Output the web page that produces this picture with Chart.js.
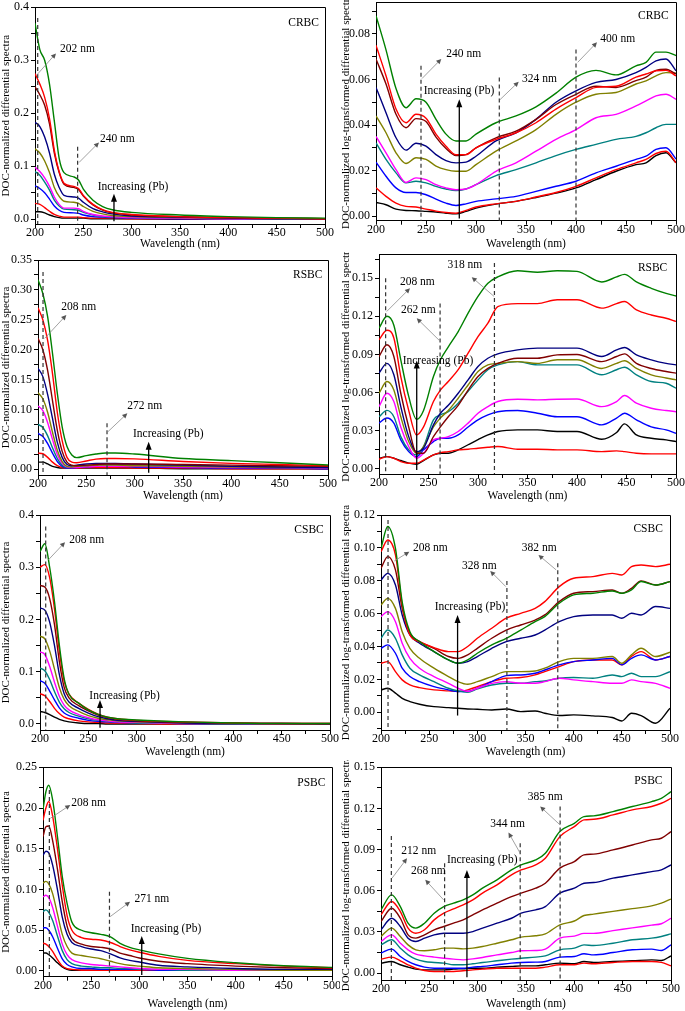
<!DOCTYPE html>
<html>
<head>
<meta charset="utf-8">
<script src="https://cdn.jsdelivr.net/npm/chart.js@4.4.1/dist/chart.umd.min.js"></script>
<style>
  body { margin: 0; background: #fff; width: 685px; height: 1011px; position: relative; overflow: hidden; }
  canvas { position: absolute; }
</style>
</head>
<body>
<script>
// series order in every panel: highest Pb (green) down to lowest (black)
const lineColors = ['#008000', '#ff0000', '#800000', '#000080', '#808000', '#ff00ff', '#008080', '#0000ff', '#ff0000', '#000000'];

// CRBC, DOC-normalized differential spectra
const crbcDiffWl = [200, 205, 210, 215, 220, 225, 230, 240, 245, 250, 260, 270, 280, 300, 350, 400, 450, 500];
const crbcDiff = [
  [0.37, 0.32, 0.30, 0.255, 0.185, 0.115, 0.088, 0.08, 0.074, 0.057, 0.036, 0.024, 0.018, 0.013, 0.008, 0.005, 0.003, 0.002],
  [0.275, 0.255, 0.23, 0.19, 0.13, 0.09, 0.068, 0.062, 0.058, 0.045, 0.028, 0.018, 0.013, 0.009, 0.005, 0.003, 0.002, 0.001],
  [0.25, 0.235, 0.215, 0.18, 0.125, 0.088, 0.066, 0.06, 0.056, 0.044, 0.027, 0.017, 0.012, 0.008, 0.005, 0.003, 0.002, 0.001],
  [0.183, 0.175, 0.155, 0.125, 0.085, 0.06, 0.045, 0.042, 0.04, 0.032, 0.02, 0.014, 0.01, 0.006, 0.004, 0.002, 0.001, 0.001],
  [0.133, 0.125, 0.11, 0.088, 0.06, 0.043, 0.034, 0.032, 0.03, 0.024, 0.015, 0.01, 0.007, 0.005, 0.003, 0.002, 0.001, 0.001],
  [0.098, 0.09, 0.078, 0.062, 0.042, 0.028, 0.021, 0.021, 0.02, 0.015, 0.009, 0.006, 0.005, 0.003, 0.002, 0.001, 0.001, 0],
  [0.09, 0.083, 0.07, 0.055, 0.036, 0.025, 0.019, 0.018, 0.017, 0.013, 0.008, 0.005, 0.004, 0.003, 0.002, 0.001, 0.001, 0],
  [0.063, 0.058, 0.05, 0.038, 0.025, 0.017, 0.013, 0.012, 0.011, 0.008, 0.005, 0.004, 0.003, 0.002, 0.001, 0.001, 0, 0],
  [0.03, 0.028, 0.022, 0.015, 0.009, 0.006, 0.004, 0.004, 0.004, 0.003, 0.002, 0.002, 0.002, 0.001, 0.001, 0, 0, 0],
  [0.014, 0.014, 0.012, 0.008, 0.005, 0.003, 0.002, 0.002, 0.002, 0.002, 0.001, 0.001, 0.001, 0.001, 0, 0, 0, 0]
];

// CRBC, log-transformed
const crbcLogWl = [200, 210, 220, 230, 240, 250, 260, 270, 280, 290, 300, 320, 340, 360, 380, 400, 420, 440, 460, 470, 480, 490, 500];
const crbcLog = [
  [0.088, 0.073, 0.056, 0.0476, 0.0515, 0.05, 0.0425, 0.036, 0.033, 0.033, 0.036, 0.041, 0.044, 0.048, 0.054, 0.061, 0.064, 0.062, 0.066, 0.0675, 0.072, 0.072, 0.0705],
  [0.075, 0.0616, 0.047, 0.041, 0.0447, 0.043, 0.036, 0.0307, 0.027, 0.027, 0.030, 0.0337, 0.0366, 0.041, 0.047, 0.052, 0.0565, 0.057, 0.061, 0.0624, 0.0638, 0.064, 0.0616],
  [0.069, 0.058, 0.0447, 0.0388, 0.0428, 0.0415, 0.0347, 0.0297, 0.0266, 0.027, 0.030, 0.0344, 0.0373, 0.0425, 0.049, 0.0535, 0.057, 0.0565, 0.0595, 0.061, 0.064, 0.0645, 0.0624],
  [0.0565, 0.0454, 0.0344, 0.029, 0.032, 0.0307, 0.027, 0.0244, 0.0234, 0.0237, 0.0263, 0.033, 0.0366, 0.0425, 0.050, 0.055, 0.0587, 0.060, 0.063, 0.0653, 0.0682, 0.069, 0.0638],
  [0.044, 0.0366, 0.0278, 0.0231, 0.0256, 0.0249, 0.022, 0.0204, 0.0197, 0.0197, 0.0226, 0.0285, 0.033, 0.038, 0.0447, 0.050, 0.0535, 0.0543, 0.058, 0.0594, 0.0616, 0.063, 0.0628],
  [0.035, 0.0278, 0.0204, 0.0148, 0.0168, 0.016, 0.0138, 0.0124, 0.0116, 0.0119, 0.0138, 0.0197, 0.0234, 0.0285, 0.0337, 0.038, 0.0432, 0.0447, 0.0484, 0.0506, 0.0528, 0.0535, 0.0513],
  [0.0322, 0.0249, 0.019, 0.0146, 0.0153, 0.0146, 0.0131, 0.0119, 0.0112, 0.0119, 0.0138, 0.0178, 0.0204, 0.0234, 0.0266, 0.0293, 0.0315, 0.0337, 0.035, 0.0366, 0.0388, 0.0403, 0.0403],
  [0.0237, 0.0175, 0.0124, 0.0104, 0.0104, 0.0094, 0.0075, 0.0057, 0.0047, 0.0054, 0.0065, 0.0076, 0.0087, 0.0109, 0.0131, 0.0153, 0.019, 0.0219, 0.0249, 0.0263, 0.0293, 0.030, 0.0251],
  [0.0124, 0.0087, 0.0057, 0.0043, 0.004, 0.0031, 0.0022, 0.0016, 0.0013, 0.0025, 0.004, 0.0054, 0.0065, 0.0084, 0.0104, 0.0131, 0.0168, 0.0204, 0.0234, 0.0249, 0.0275, 0.0285, 0.0234],
  [0.006, 0.005, 0.0031, 0.0025, 0.0024, 0.0021, 0.0018, 0.0013, 0.001, 0.0021, 0.0035, 0.0053, 0.0065, 0.0082, 0.0101, 0.0124, 0.016, 0.0197, 0.0226, 0.0234, 0.0266, 0.0278, 0.0234]
];

// RSBC, differential
const rsbcDiffWl = [200, 205, 210, 215, 220, 225, 230, 235, 240, 250, 260, 270, 280, 300, 350, 400, 450, 500];
const rsbcDiff = [
  [0.317, 0.294, 0.255, 0.194, 0.127, 0.071, 0.038, 0.024, 0.0195, 0.023, 0.0256, 0.0273, 0.0273, 0.0256, 0.018, 0.0145, 0.011, 0.0072],
  [0.27, 0.25, 0.215, 0.16, 0.095, 0.048, 0.02, 0.012, 0.011, 0.014, 0.017, 0.018, 0.018, 0.0175, 0.013, 0.01, 0.008, 0.006],
  [0.219, 0.2, 0.165, 0.115, 0.065, 0.03, 0.012, 0.007, 0.006, 0.007, 0.008, 0.009, 0.009, 0.009, 0.008, 0.007, 0.006, 0.005],
  [0.169, 0.155, 0.125, 0.085, 0.045, 0.02, 0.008, 0.006, 0.007, 0.009, 0.01, 0.01, 0.01, 0.009, 0.007, 0.005, 0.004, 0.003],
  [0.128, 0.118, 0.095, 0.062, 0.032, 0.013, 0.005, 0.004, 0.005, 0.006, 0.007, 0.007, 0.007, 0.006, 0.005, 0.004, 0.003, 0.003],
  [0.106, 0.098, 0.078, 0.05, 0.025, 0.01, 0.004, 0.003, 0.003, 0.004, 0.005, 0.005, 0.005, 0.005, 0.004, 0.003, 0.003, 0.002],
  [0.075, 0.07, 0.056, 0.036, 0.018, 0.007, 0.003, 0.003, 0.004, 0.006, 0.007, 0.008, 0.008, 0.007, 0.006, 0.005, 0.004, 0.003],
  [0.06, 0.055, 0.043, 0.027, 0.013, 0.005, 0.002, 0.002, 0.003, 0.004, 0.005, 0.005, 0.005, 0.004, 0.003, 0.002, 0.002, 0.001],
  [0.027, 0.026, 0.02, 0.012, 0.006, 0.003, 0.002, 0.002, 0.002, 0.003, 0.003, 0.003, 0.003, 0.002, 0.002, 0.001, 0.001, 0.001],
  [0.012, 0.012, 0.009, 0.005, 0.003, 0.002, 0.002, 0.002, 0.002, 0.002, 0.002, 0.002, 0.002, 0.002, 0.001, 0.001, 0.001, 0.001]
];

// RSBC, log-transformed
const rsbcLogWl = [200, 208, 215, 222, 230, 238, 245, 255, 262, 270, 280, 290, 300, 310, 320, 340, 360, 380, 400, 425, 440, 448, 460, 475, 490, 500];
const rsbcLog = [
  [0.1107, 0.12, 0.113, 0.0858, 0.057, 0.039, 0.046, 0.0726, 0.0858, 0.096, 0.108, 0.1225, 0.1356, 0.146, 0.151, 0.1558, 0.1547, 0.1558, 0.1553, 0.147, 0.151, 0.153, 0.147, 0.142, 0.138, 0.136],
  [0.1015, 0.109, 0.103, 0.0726, 0.046, 0.0267, 0.033, 0.053, 0.062, 0.0687, 0.078, 0.091, 0.104, 0.1146, 0.1277, 0.130, 0.130, 0.133, 0.133, 0.1264, 0.130, 0.1317, 0.125, 0.121, 0.1185, 0.116],
  [0.0884, 0.0976, 0.0884, 0.0595, 0.033, 0.0123, 0.0123, 0.0254, 0.033, 0.041, 0.050, 0.062, 0.0726, 0.079, 0.083, 0.087, 0.087, 0.0897, 0.090, 0.0844, 0.0884, 0.0905, 0.083, 0.079, 0.0766, 0.0753],
  [0.0753, 0.083, 0.074, 0.049, 0.0254, 0.0136, 0.0163, 0.0346, 0.0438, 0.050, 0.0595, 0.070, 0.0805, 0.087, 0.0905, 0.0936, 0.095, 0.095, 0.095, 0.0884, 0.0936, 0.0955, 0.0897, 0.0858, 0.083, 0.0818],
  [0.0595, 0.0687, 0.062, 0.041, 0.0215, 0.0123, 0.0176, 0.033, 0.040, 0.046, 0.0556, 0.066, 0.0766, 0.0818, 0.083, 0.0844, 0.083, 0.0858, 0.0858, 0.079, 0.083, 0.085, 0.079, 0.074, 0.0715, 0.070],
  [0.049, 0.0595, 0.053, 0.033, 0.0176, 0.0084, 0.0123, 0.0228, 0.0241, 0.0254, 0.0294, 0.036, 0.0438, 0.049, 0.053, 0.0548, 0.0543, 0.0548, 0.055, 0.049, 0.053, 0.0577, 0.0517, 0.0477, 0.0459, 0.045],
  [0.041, 0.046, 0.041, 0.0254, 0.015, 0.011, 0.0176, 0.0386, 0.0425, 0.045, 0.0517, 0.061, 0.070, 0.078, 0.0818, 0.0844, 0.0818, 0.0818, 0.0818, 0.074, 0.078, 0.080, 0.074, 0.0687, 0.0674, 0.0635],
  [0.036, 0.040, 0.036, 0.0228, 0.0136, 0.0097, 0.015, 0.0215, 0.0241, 0.0241, 0.0267, 0.033, 0.0386, 0.0425, 0.045, 0.0459, 0.0438, 0.041, 0.041, 0.0346, 0.040, 0.0438, 0.0386, 0.033, 0.0307, 0.028],
  [0.0076, 0.0097, 0.0084, 0.0058, 0.0045, 0.0045, 0.007, 0.011, 0.0128, 0.0136, 0.015, 0.0155, 0.0163, 0.017, 0.0176, 0.0155, 0.0155, 0.015, 0.015, 0.0136, 0.0142, 0.0136, 0.0123, 0.0118, 0.0118, 0.0118],
  [0.0084, 0.0097, 0.0084, 0.0066, 0.0045, 0.0037, 0.0066, 0.011, 0.0123, 0.0123, 0.015, 0.019, 0.023, 0.0267, 0.0294, 0.0307, 0.0307, 0.0294, 0.0294, 0.0233, 0.0286, 0.0354, 0.0267, 0.0241, 0.0228, 0.0215]
];

// CSBC, differential
const csbcDiffWl = [200, 205, 210, 215, 220, 225, 230, 240, 250, 260, 270, 280, 300, 350, 400, 450, 500];
const csbcDiff = [
  [0.33, 0.345, 0.30, 0.234, 0.151, 0.087, 0.057, 0.04, 0.027, 0.0185, 0.013, 0.01, 0.0077, 0.004, 0.002, 0.001, 0.001],
  [0.30, 0.305, 0.28, 0.22, 0.14, 0.082, 0.057, 0.04, 0.028, 0.019, 0.013, 0.01, 0.007, 0.004, 0.002, 0.001, 0.001],
  [0.265, 0.262, 0.24, 0.19, 0.12, 0.07, 0.05, 0.035, 0.025, 0.017, 0.012, 0.009, 0.006, 0.003, 0.002, 0.001, 0.001],
  [0.222, 0.218, 0.195, 0.15, 0.095, 0.058, 0.042, 0.03, 0.021, 0.014, 0.01, 0.007, 0.005, 0.002, 0.001, 0.001, 0],
  [0.168, 0.163, 0.14, 0.105, 0.07, 0.047, 0.035, 0.024, 0.016, 0.011, 0.008, 0.006, 0.004, 0.002, 0.001, 0.001, 0],
  [0.138, 0.133, 0.11, 0.08, 0.053, 0.036, 0.027, 0.018, 0.012, 0.008, 0.006, 0.004, 0.003, 0.001, 0.001, 0, 0],
  [0.107, 0.102, 0.085, 0.062, 0.042, 0.029, 0.022, 0.015, 0.01, 0.007, 0.005, 0.004, 0.002, 0.001, 0, 0, 0],
  [0.083, 0.078, 0.063, 0.046, 0.031, 0.021, 0.016, 0.011, 0.007, 0.005, 0.004, 0.003, 0.002, 0.001, 0, 0, 0],
  [0.058, 0.054, 0.043, 0.03, 0.02, 0.013, 0.01, 0.006, 0.004, 0.003, 0.002, 0.002, 0.001, 0, 0, 0, 0],
  [0.024, 0.022, 0.018, 0.013, 0.009, 0.006, 0.004, 0.002, 0.001, 0.001, 0, 0, 0, 0, 0, 0, 0]
];

// CSBC, log-transformed
const csbcLogWl = [200, 207, 215, 222, 230, 240, 255, 270, 280, 290, 300, 315, 330, 345, 360, 370, 385, 400, 420, 440, 450, 460, 470, 485, 500];
const csbcLog = [
  [0.0997, 0.113, 0.0997, 0.067, 0.049, 0.043, 0.0369, 0.0318, 0.0298, 0.0318, 0.0359, 0.041, 0.045, 0.050, 0.0551, 0.0582, 0.0663, 0.0714, 0.0724, 0.0738, 0.0724, 0.0744, 0.0795, 0.0774, 0.0795],
  [0.0977, 0.1048, 0.0957, 0.0653, 0.047, 0.043, 0.0393, 0.0369, 0.0369, 0.040, 0.045, 0.0511, 0.0572, 0.0602, 0.0632, 0.0673, 0.0764, 0.0815, 0.0825, 0.0845, 0.0835, 0.0886, 0.0896, 0.0886, 0.090],
  [0.0876, 0.0947, 0.0866, 0.0632, 0.048, 0.043, 0.0389, 0.0339, 0.0328, 0.0349, 0.0389, 0.045, 0.050, 0.0531, 0.0561, 0.0592, 0.0673, 0.0724, 0.0734, 0.0744, 0.0724, 0.0754, 0.0799, 0.0774, 0.0795],
  [0.0805, 0.0845, 0.0774, 0.0592, 0.047, 0.042, 0.0369, 0.0318, 0.0298, 0.0308, 0.0339, 0.0389, 0.043, 0.045, 0.047, 0.050, 0.0551, 0.0582, 0.0592, 0.0592, 0.0572, 0.0602, 0.0592, 0.0643, 0.0632],
  [0.0653, 0.0693, 0.0632, 0.049, 0.0389, 0.0328, 0.0268, 0.0217, 0.0186, 0.017, 0.0186, 0.0217, 0.0247, 0.0247, 0.0251, 0.0268, 0.0308, 0.0328, 0.0328, 0.0339, 0.0298, 0.0349, 0.0389, 0.0339, 0.0365],
  [0.0582, 0.0612, 0.0551, 0.042, 0.0328, 0.0268, 0.0217, 0.0176, 0.0146, 0.0126, 0.0146, 0.0176, 0.0186, 0.0176, 0.0176, 0.0186, 0.0207, 0.0197, 0.0186, 0.0176, 0.0176, 0.0197, 0.0186, 0.0176, 0.0146],
  [0.045, 0.050, 0.045, 0.0349, 0.0268, 0.0227, 0.0186, 0.0146, 0.013, 0.0122, 0.0142, 0.0166, 0.0176, 0.0176, 0.0186, 0.019, 0.0207, 0.0211, 0.0207, 0.0227, 0.0217, 0.0237, 0.0217, 0.0217, 0.0247],
  [0.0389, 0.041, 0.0359, 0.0268, 0.0217, 0.0186, 0.0156, 0.0136, 0.0126, 0.0126, 0.0146, 0.0186, 0.0223, 0.0227, 0.0237, 0.0257, 0.0288, 0.0308, 0.0318, 0.0328, 0.0288, 0.0328, 0.0349, 0.0318, 0.0339],
  [0.0298, 0.0308, 0.0247, 0.0197, 0.0166, 0.015, 0.0136, 0.013, 0.0126, 0.0136, 0.0156, 0.0186, 0.0207, 0.0211, 0.0227, 0.0247, 0.0278, 0.0308, 0.0318, 0.0318, 0.0288, 0.0339, 0.0369, 0.0318, 0.0339],
  [0.0136, 0.0146, 0.0116, 0.0085, 0.0065, 0.0049, 0.0034, 0.0028, 0.0024, 0.002, 0.0018, 0.0014, 0.002, 0.0004, 0.0008, -0.0006, -0.002, -0.0016, -0.0022, -0.0032, -0.0053, -0.0006, -0.002, -0.0067, 0.0024]
];

// PSBC, differential
const psbcDiffWl = [200, 203, 206, 210, 215, 220, 225, 230, 240, 250, 260, 270, 280, 290, 300, 320, 350, 400, 450, 500];
const psbcDiff = [
  [0.198, 0.22, 0.228, 0.21, 0.165, 0.116, 0.083, 0.06, 0.05, 0.047, 0.045, 0.042, 0.034, 0.029, 0.026, 0.021, 0.0155, 0.0102, 0.0065, 0.0045],
  [0.185, 0.2, 0.208, 0.19, 0.15, 0.105, 0.068, 0.05, 0.041, 0.039, 0.038, 0.035, 0.03, 0.026, 0.023, 0.018, 0.013, 0.009, 0.006, 0.004],
  [0.165, 0.177, 0.178, 0.16, 0.125, 0.085, 0.055, 0.04, 0.033, 0.03, 0.029, 0.027, 0.022, 0.019, 0.016, 0.012, 0.009, 0.006, 0.004, 0.003],
  [0.142, 0.147, 0.145, 0.13, 0.1, 0.066, 0.045, 0.035, 0.03, 0.027, 0.025, 0.021, 0.016, 0.013, 0.011, 0.007, 0.005, 0.003, 0.002, 0.002],
  [0.108, 0.11, 0.107, 0.095, 0.07, 0.045, 0.03, 0.022, 0.019, 0.017, 0.015, 0.012, 0.009, 0.007, 0.006, 0.004, 0.003, 0.002, 0.001, 0.001],
  [0.091, 0.093, 0.09, 0.078, 0.055, 0.033, 0.02, 0.014, 0.01, 0.008, 0.007, 0.006, 0.005, 0.004, 0.003, 0.002, 0.002, 0.001, 0.001, 0.001],
  [0.073, 0.075, 0.072, 0.062, 0.043, 0.025, 0.014, 0.009, 0.006, 0.005, 0.004, 0.004, 0.003, 0.003, 0.002, 0.002, 0.001, 0.001, 0.001, 0.001],
  [0.053, 0.053, 0.05, 0.042, 0.028, 0.015, 0.008, 0.005, 0.003, 0.003, 0.002, 0.002, 0.002, 0.002, 0.002, 0.001, 0.001, 0.001, 0.001, 0.001],
  [0.034, 0.033, 0.03, 0.024, 0.014, 0.006, 0.003, 0.002, 0.001, 0.001, 0.001, 0.001, 0.001, 0.001, 0.001, 0.001, 0.001, 0.001, 0.001, 0.001],
  [0.022, 0.022, 0.02, 0.016, 0.01, 0.005, 0.002, 0.001, 0.001, 0.001, 0.001, 0.001, 0.001, 0.001, 0.001, 0.001, 0.001, 0.001, 0.001, 0.001]
];

// PSBC, log-transformed
const psbcLogWl = [200, 211, 220, 228, 236, 245, 255, 265, 275, 285, 295, 305, 320, 335, 345, 360, 370, 385, 400, 410, 420, 440, 460, 480, 490, 500];
const psbcLog = [
  [0.0461, 0.057, 0.0485, 0.0364, 0.0328, 0.0364, 0.0437, 0.0485, 0.051, 0.0534, 0.057, 0.0619, 0.068, 0.0752, 0.0789, 0.0825, 0.0874, 0.1032, 0.1092, 0.1141, 0.1146, 0.1177, 0.1214, 0.125, 0.1274, 0.1323],
  [0.0425, 0.0522, 0.0449, 0.0328, 0.0291, 0.0316, 0.0388, 0.0437, 0.0468, 0.0498, 0.0534, 0.0583, 0.0643, 0.0716, 0.0752, 0.0789, 0.0837, 0.0995, 0.1068, 0.1117, 0.1121, 0.1153, 0.119, 0.1214, 0.1238, 0.1274],
  [0.0376, 0.0473, 0.040, 0.0279, 0.0255, 0.0279, 0.0316, 0.034, 0.0364, 0.0388, 0.0425, 0.0461, 0.051, 0.0558, 0.0583, 0.0619, 0.0655, 0.0765, 0.0813, 0.0862, 0.0867, 0.0898, 0.0934, 0.0971, 0.0983, 0.1032],
  [0.0316, 0.040, 0.034, 0.0255, 0.0231, 0.0255, 0.0279, 0.0291, 0.0291, 0.0291, 0.0303, 0.0328, 0.0364, 0.040, 0.0437, 0.0461, 0.0485, 0.0583, 0.0619, 0.0655, 0.066, 0.0692, 0.0716, 0.074, 0.0752, 0.0789],
  [0.0267, 0.0328, 0.0267, 0.0206, 0.017, 0.0163, 0.017, 0.0182, 0.0182, 0.0177, 0.0182, 0.0194, 0.0218, 0.0243, 0.0262, 0.0272, 0.0286, 0.0352, 0.038, 0.042, 0.043, 0.045, 0.047, 0.049, 0.051, 0.054],
  [0.0231, 0.0279, 0.0218, 0.017, 0.0138, 0.0126, 0.0117, 0.0109, 0.0102, 0.0097, 0.0104, 0.0114, 0.0133, 0.015, 0.0163, 0.0165, 0.0175, 0.0255, 0.027, 0.029, 0.029, 0.031, 0.033, 0.035, 0.036, 0.040],
  [0.0206, 0.0243, 0.0182, 0.0133, 0.0102, 0.0085, 0.0078, 0.0073, 0.0061, 0.0061, 0.0068, 0.0078, 0.009, 0.0102, 0.0109, 0.0117, 0.0126, 0.017, 0.0182, 0.0206, 0.0201, 0.0218, 0.0243, 0.0255, 0.0267, 0.0286],
  [0.0146, 0.0175, 0.0121, 0.0085, 0.0061, 0.0044, 0.0036, 0.0036, 0.0036, 0.0036, 0.0044, 0.0049, 0.0061, 0.0073, 0.0078, 0.008, 0.0085, 0.0117, 0.0121, 0.0141, 0.0133, 0.015, 0.017, 0.0175, 0.0165, 0.0206],
  [0.0102, 0.0117, 0.009, 0.0061, 0.0036, 0.0019, 0.0012, 0.0012, 0.0012, 0.0017, 0.0024, 0.0029, 0.0036, 0.0036, 0.0036, 0.0036, 0.0044, 0.0061, 0.0061, 0.0073, 0.0068, 0.0078, 0.0085, 0.0085, 0.0078, 0.0053],
  [0.0073, 0.0085, 0.0061, 0.0044, 0.0029, 0.0024, 0.0024, 0.0024, 0.0029, 0.0032, 0.0036, 0.0036, 0.0044, 0.0049, 0.0053, 0.0053, 0.0061, 0.0073, 0.0068, 0.0085, 0.0078, 0.0085, 0.009, 0.0097, 0.0092, 0.0126]
];

const diffTitle = 'DOC-normalized differential spectra';
const logTitle = 'DOC-normalized log-transformed differential spectra';
const fontFamily = "'Liberation Serif', 'Times New Roman', serif";

Chart.defaults.font.family = fontFamily;
Chart.defaults.font.size = 11;
Chart.defaults.color = '#000';

// canvas: [left, top, w, h], plot: [left, top, right, bottom] in page pixels
const panels = [
  { wl: crbcDiffWl, series: crbcDiff, canvas: [0, 0, 340, 251], plot: [35, 7.3, 325, 224], yMin: -0.009, yMax: 0.4, yMajor: 0.1, digits: 1, title: diffTitle,
    dashes: [[202.8, 0.38], [244.1, 0.137]],
    pointers: [[201.7, 0.272, 221.7, 0.313], [245.5, 0.107, 266.2, 0.145]],
    pb: [281.7, -0.004, 0.048],
    labels: [['202 nm', 225.9, 0.321], ['240 nm', 267.2, 0.151], ['Increasing (Pb)', 264.8, 0.06], ['CRBC', 462, 0.371]] },
  { wl: crbcLogWl, series: crbcLog, canvas: [340, 0, 345, 251], plot: [376, 2, 676, 220.7], yMin: -0.002, yMax: 0.094, yMajor: 0.02, digits: 2, title: logTitle,
    dashes: [[245, 0.066], [323.3, 0.0609], [400, 0.0731]],
    pointers: [[246, 0.0604, 265.3, 0.069], [323.7, 0.051, 342.7, 0.059], [401.7, 0.0675, 421, 0.0763]],
    pb: [283.3, -0.001, 0.0513],
    labels: [['240 nm', 270.3, 0.0712], ['324 nm', 346, 0.060], ['400 nm', 424.3, 0.0778], ['Increasing (Pb)', 247.7, 0.055], ['CRBC', 462, 0.088]] },
  { wl: rsbcDiffWl, series: rsbcDiff, canvas: [0, 252, 340, 251], plot: [38, 260, 328, 475], yMin: -0.0095, yMax: 0.35, yMajor: 0.05, digits: 2, title: diffTitle,
    dashes: [[205.2, 0.33], [271.4, 0.077]],
    pointers: [[206.9, 0.219, 229.3, 0.258], [272.4, 0.063, 292.4, 0.0936]],
    pb: [314.5, -0.0056, 0.0463],
    labels: [['208 nm', 224.1, 0.271], ['272 nm', 292.4, 0.1065], ['Increasing (Pb)', 298.3, 0.0585], ['RSBC', 463.8, 0.325]] },
  { wl: rsbcLogWl, series: rsbcLog, canvas: [340, 252, 345, 251], plot: [379, 254, 676, 474], yMin: -0.004, yMax: 0.169, yMajor: 0.03, digits: 2, title: logTitle,
    dashes: [[206.7, 0.15], [261.7, 0.13], [316.6, 0.162]],
    pointers: [[207.8, 0.1238, 231.3, 0.1421], [261, 0.101, 238.1, 0.1185], [316.3, 0.1356, 293.7, 0.1508]],
    pb: [238.1, -0.0008, 0.0852],
    labels: [['208 nm', 221.2, 0.147], ['262 nm', 222.2, 0.125], ['318 nm', 269.1, 0.16], ['Increasing (Pb)', 223.9, 0.085], ['RSBC', 461.5, 0.158]] },
  { wl: csbcDiffWl, series: csbcDiff, canvas: [0, 505, 340, 254], plot: [40, 515, 330, 730], yMin: -0.0115, yMax: 0.4, yMajor: 0.1, digits: 1, title: diffTitle,
    dashes: [[205.9, 0.378]],
    pointers: [[208.6, 0.314, 225.9, 0.348]],
    pb: [262.1, -0.007, 0.046],
    labels: [['208 nm', 230.3, 0.353], ['Increasing (Pb)', 251, 0.054], ['CSBC', 463.1, 0.371]] },
  { wl: csbcLogWl, series: csbcLog, canvas: [340, 505, 345, 254], plot: [381, 515, 670, 730], yMin: -0.0108, yMax: 0.12, yMajor: 0.02, digits: 2, title: logTitle,
    dashes: [[207.3, 0.117], [330.7, 0.0799], [383.5, 0.0906]],
    pointers: [[213.8, 0.092, 229.4, 0.0977], [329.6, 0.0764, 313.4, 0.086], [381.8, 0.0866, 363.5, 0.0957]],
    pb: [279.5, -0.002, 0.0592],
    labels: [['208 nm', 233.2, 0.0997], ['328 nm', 284, 0.089], ['382 nm', 346.2, 0.0997], ['Increasing (Pb)', 255.7, 0.0643], ['CSBC', 462, 0.1115]] },
  { wl: psbcDiffWl, series: psbcDiff, canvas: [0, 760, 340, 251], plot: [43, 767.3, 332, 976.7], yMin: -0.007, yMax: 0.25, yMajor: 0.05, digits: 2, title: diffTitle,
    dashes: [[206.6, 0.222], [269, 0.0974]],
    pointers: [[207.6, 0.1874, 228.3, 0.2038], [269.7, 0.0667, 290.4, 0.085]],
    pb: [302.5, -0.005, 0.043],
    labels: [['208 nm', 229.3, 0.2066], ['271 nm', 294.9, 0.088], ['Increasing (Pb)', 291.1, 0.0516], ['PSBC', 464, 0.231]] },
  { wl: psbcLogWl, series: psbcLog, canvas: [340, 760, 345, 251], plot: [381, 767.3, 671, 980], yMin: -0.005, yMax: 0.15, yMajor: 0.03, digits: 2, title: logTitle,
    dashes: [[210.7, 0.1], [265.8, 0.08], [344, 0.0947], [385.3, 0.1214]],
    pointers: [[211.4, 0.0692, 226.9, 0.0837], [264.8, 0.0534, 245.8, 0.068], [344, 0.0874, 331.9, 0.1024], [385.3, 0.108, 364.7, 0.1214]],
    pb: [288.9, -0.003, 0.0752],
    labels: [['212 nm', 221, 0.0893], ['268 nm', 231, 0.0745], ['344 nm', 313, 0.109], ['385 nm', 351.9, 0.1286], ['Increasing (Pb)', 268.2, 0.0825], ['PSBC', 462.1, 0.1403]] }
];

function arrow(ctx, x1, y1, x2, y2, len, half) {
  const a = Math.atan2(y2 - y1, x2 - x1);
  const c = Math.cos(a), s = Math.sin(a);
  ctx.beginPath();
  ctx.moveTo(x1, y1);
  ctx.lineTo(x2 - c * len * 0.6, y2 - s * len * 0.6);
  ctx.stroke();
  ctx.beginPath();
  ctx.moveTo(x2, y2);
  ctx.lineTo(x2 - len * c + half * s, y2 - len * s - half * c);
  ctx.lineTo(x2 - len * c - half * s, y2 - len * s + half * c);
  ctx.closePath();
  ctx.fill();
}

function makeChart(p, idx) {
  const [cl, ct, cw, ch] = p.canvas;
  const [pl, pt, pr, pb] = p.plot;
  const cv = document.createElement('canvas');
  cv.width = cw;
  cv.height = ch;
  cv.style.left = cl + 'px';
  cv.style.top = ct + 'px';
  document.body.appendChild(cv);

  const datasets = p.series.map((vals, i) => ({
    data: p.wl.map((w, j) => ({ x: w, y: vals[j] })),
    borderColor: lineColors[i],
    borderWidth: 1.4,
    pointRadius: 0,
    cubicInterpolationMode: 'monotone',
    fill: false
  }));

  const xTicks = [];
  for (let v = 200; v <= 500; v += 25) xTicks.push(v);
  const minor = p.yMajor / 2;
  const yTicks = [];
  for (let k = Math.ceil(p.yMin / minor - 1e-9); k * minor <= p.yMax + 1e-9; k++) yTicks.push(+(k * minor).toFixed(6));

  const marks = {
    id: 'marks' + idx,
    afterDraw(chart) {
      const { ctx, chartArea: a, scales: { x, y } } = chart;
      ctx.save();
      ctx.strokeStyle = '#000';
      ctx.lineWidth = 1;
      ctx.beginPath();
      ctx.moveTo(a.left, Math.round(a.top) + 0.5);
      ctx.lineTo(Math.round(a.right) + 0.5, Math.round(a.top) + 0.5);
      ctx.lineTo(Math.round(a.right) + 0.5, a.bottom);
      ctx.stroke();

      ctx.setLineDash([4, 3]);
      ctx.strokeStyle = '#333';
      ctx.lineWidth = 1.2;
      p.dashes.forEach(([w, top]) => {
        const X = x.getPixelForValue(w);
        ctx.beginPath();
        ctx.moveTo(X, y.getPixelForValue(top));
        ctx.lineTo(X, a.bottom);
        ctx.stroke();
      });
      ctx.setLineDash([]);

      ctx.strokeStyle = '#8a8a8a';
      ctx.fillStyle = '#555';
      ctx.lineWidth = 0.8;
      p.pointers.forEach(([w1, v1, w2, v2]) => {
        arrow(ctx, x.getPixelForValue(w1), y.getPixelForValue(v1), x.getPixelForValue(w2), y.getPixelForValue(v2), 5, 2.5);
      });

      ctx.strokeStyle = '#000';
      ctx.fillStyle = '#000';
      ctx.lineWidth = 1.3;
      const X = x.getPixelForValue(p.pb[0]);
      arrow(ctx, X, y.getPixelForValue(p.pb[1]), X, y.getPixelForValue(p.pb[2]), 8, 3);

      ctx.font = '11.5px ' + fontFamily;
      ctx.textAlign = 'left';
      ctx.textBaseline = 'middle';
      p.labels.forEach(([t, w, v]) => ctx.fillText(t, x.getPixelForValue(w), y.getPixelForValue(v)));
      ctx.restore();
    }
  };

  new Chart(cv, {
    type: 'line',
    data: { datasets },
    options: {
      responsive: false,
      animation: false,
      events: [],
      layout: { padding: { left: 0, top: pt - ct, right: cl + cw - pr, bottom: 0 } },
      plugins: { legend: { display: false }, tooltip: { enabled: false } },
      scales: {
        x: {
          type: 'linear',
          min: 200,
          max: 500,
          afterBuildTicks: s => { s.ticks = xTicks.map(v => ({ value: v })); },
          afterFit: s => { s.height = ct + ch - pb; s.paddingLeft = 0; s.paddingRight = 0; },
          ticks: { autoSkip: false, maxRotation: 0, padding: -2, font: { size: 12 }, callback: v => (v % 50 === 0 ? String(v) : '') },
          grid: { drawOnChartArea: false, tickLength: 4, color: '#000' },
          border: { color: '#000' },
          title: { display: true, text: 'Wavelength (nm)', padding: 0, font: { size: 11.5 } }
        },
        y: {
          min: p.yMin,
          max: p.yMax,
          afterBuildTicks: s => { s.ticks = yTicks.map(v => ({ value: v })); },
          afterFit: s => { s.width = pl - cl; s.paddingTop = 0; s.paddingBottom = 0; },
          ticks: {
            autoSkip: false,
            padding: 2,
            font: { size: 12 },
            callback: v => {
              const r = v / p.yMajor;
              return Math.abs(r - Math.round(r)) < 1e-6 ? v.toFixed(p.digits) : '';
            }
          },
          grid: { drawOnChartArea: false, tickLength: 4, color: '#000' },
          border: { color: '#000' },
          title: { display: true, text: p.title, padding: 0 }
        }
      }
    },
    plugins: [marks]
  });
}

panels.forEach(makeChart);
</script>
</body>
</html>
